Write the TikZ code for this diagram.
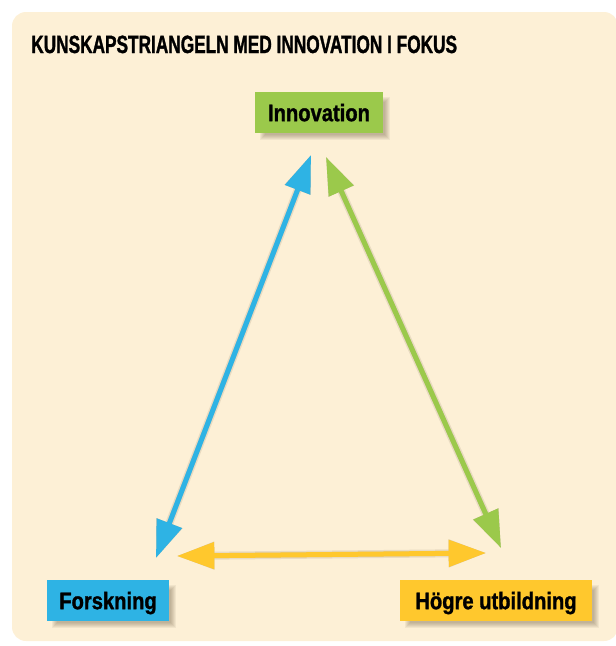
\documentclass[tikz,border=0pt]{standalone}
\usepackage{fontspec}
\setmainfont{Liberation Sans}
\newfontfamily\titlefont[FakeStretch=0.69,FakeBold=1.2]{Liberation Sans}
\newfontfamily\labelfont[FakeStretch=0.84,FakeBold=1.2]{Liberation Sans}
\usetikzlibrary{arrows.meta,calc,backgrounds}
\definecolor{cream}{HTML}{FDF0D6}
\definecolor{igreen}{HTML}{9BC94B}
\definecolor{iblue}{HTML}{2EB3E4}
\definecolor{iyellow}{HTML}{FFC82D}
\definecolor{shadowc}{HTML}{5A4A30}
\tikzset{
  lbl/.style={inner sep=0pt, text height=13pt, text depth=0pt, minimum height=30.75pt,
    font=\labelfont\bfseries\fontsize{18pt}{20pt}\selectfont},
  arr/.style={line width=3.75pt, {Triangle[length=28pt,width=19.5pt]}-{Triangle[length=28pt,width=19.5pt]}},
  arrsh/.style={arr, draw=shadowc, fill=shadowc},
  boxsh/.style={fill=shadowc, opacity=0.07},
  title/.style={anchor=base west, inner sep=0pt, font=\titlefont\bfseries\fontsize{18.75pt}{20pt}\selectfont}
}
\begin{document}
\begin{tikzpicture}[x=0.75pt,y=-0.75pt]
\useasboundingbox (0,0) rectangle (616,646);
\begin{pgfonlayer}{background}
\fill[cream, rounded corners=10.5pt] (12,12) rectangle (618,641);
\end{pgfonlayer}

\node[title] (title) at (31,53) {KUNSKAPSTRIANGELN MED INNOVATION I FOKUS};

\coordinate (bT) at (311,155);
\coordinate (bB) at (156,558);
\coordinate (gT) at (326,157);
\coordinate (gB) at (501,548);
\coordinate (yL) at (177,556);
\coordinate (yR) at (486,553);

% arrow shadows
\begin{scope}[transparency group, opacity=0.12, shift={(6,6)}]
  \draw[arrsh, line width=6pt] (bT) -- (bB);
  \draw[arrsh, line width=6pt] (gT) -- (gB);
  \draw[arrsh, line width=6pt] (yL) -- (yR);
\end{scope}
\begin{scope}[transparency group, opacity=0.18, shift={(4,4)}]
  \draw[arrsh] (bT) -- (bB);
  \draw[arrsh] (gT) -- (gB);
  \draw[arrsh] (yL) -- (yR);
\end{scope}

% arrows
\draw[arr, draw=iblue, fill=iblue] (bT) -- (bB);
\draw[arr, draw=igreen, fill=igreen] (gT) -- (gB);
\draw[arr, draw=iyellow, fill=iyellow] (yL) -- (yR);

% boxes
\node[lbl, fill=igreen, minimum width=96pt] (inno) at (319,112.5) {Innovation};
\node[lbl, fill=iblue, minimum width=91.5pt] (forsk) at (108,600.5) {Forskning};
\node[lbl, fill=iyellow, minimum width=144pt] (hogre) at (496,600.5) {Högre utbildning};

% box shadows
\begin{pgfonlayer}{background}
\foreach \n in {inno,forsk,hogre}{
  \foreach \r in {4,3,2,1,0,-1}{
    \fill[boxsh] ($(\n.north west)+(6+\r,6+\r)$) rectangle ($(\n.south east)+(6-\r,6-\r)$);
  }
}
\end{pgfonlayer}
\end{tikzpicture}
\end{document}
